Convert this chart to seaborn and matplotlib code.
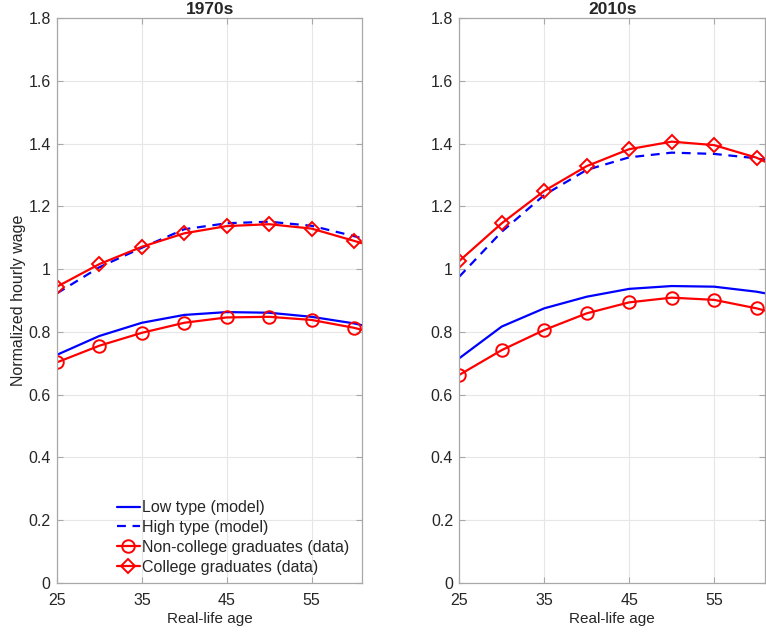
import numpy as np
import pandas as pd
import matplotlib
matplotlib.use("Agg")
import matplotlib.pyplot as plt
from matplotlib.ticker import FuncFormatter
import seaborn as sns

ages = [25, 30, 35, 40, 45, 50, 55, 60, 61]

# 1970s
low_1970 = [0.727, 0.787, 0.829, 0.854, 0.863, 0.861, 0.848, 0.827, 0.821]
high_1970 = [0.923, 1.006, 1.068, 1.127, 1.146, 1.151, 1.138, 1.105, 1.098]
noncol_1970 = [0.703, 0.756, 0.797, 0.829, 0.846, 0.848, 0.838, 0.813, 0.806]
col_1970 = [0.944, 1.016, 1.071, 1.114, 1.137, 1.143, 1.129, 1.090, 1.082]

# 2010s
low_2010 = [0.716, 0.817, 0.875, 0.912, 0.937, 0.946, 0.944, 0.928, 0.923]
high_2010 = [0.976, 1.119, 1.236, 1.316, 1.356, 1.371, 1.367, 1.353, 1.348]
noncol_2010 = [0.663, 0.742, 0.806, 0.859, 0.894, 0.909, 0.902, 0.875, 0.868]
col_2010 = [1.026, 1.146, 1.249, 1.328, 1.382, 1.406, 1.395, 1.355, 1.342]

labels = ["Low type (model)", "High type (model)",
          "Non-college graduates (data)", "College graduates (data)"]
titles = ["1970s", "2010s"]
xticks = [25, 35, 45, 55]
yticks = [0, 0.2, 0.4, 0.6, 0.8, 1.0, 1.2, 1.4, 1.6, 1.8]

sns.set_theme(style="white")
plt.rcParams["font.family"] = ["Liberation Sans", "DejaVu Sans"]
plt.rcParams["font.size"] = 11.5

spine_col = "#a8a8a8"
text_col = "#262626"

fig = plt.figure(figsize=(7.66, 6.33), dpi=100)
ax_l = fig.add_axes([0.0744, 0.079, 0.3988, 0.8926])
ax_r = fig.add_axes([0.5996, 0.079, 0.3991, 0.8926])

panels = [
    (ax_l, low_1970, high_1970, noncol_1970, col_1970),
    (ax_r, low_2010, high_2010, noncol_2010, col_2010),
]
mk = list(range(8))

for i, (ax, low, high, noncol, col) in enumerate(panels):
    sns.lineplot(x=ages, y=low, ax=ax, color="blue", lw=1.6, label=labels[0])
    sns.lineplot(x=ages, y=high, ax=ax, color="blue", lw=1.6, ls=(0, (4, 3)),
                 label=labels[1])
    sns.lineplot(x=ages, y=noncol, ax=ax, color="red", lw=1.6, marker="o",
                 markersize=9, mfc="none", mec="red", mew=1.4, markevery=mk,
                 label=labels[2])
    sns.lineplot(x=ages, y=col, ax=ax, color="red", lw=1.6, marker="D",
                 markersize=7, mfc="none", mec="red", mew=1.4, markevery=mk,
                 label=labels[3])

    ax.set_xlim(25, 61)
    ax.set_ylim(0, 1.8)
    ax.set_xticks(xticks)
    ax.set_yticks(yticks)
    ax.yaxis.set_major_formatter(FuncFormatter(lambda v, p: f"{v:g}"))
    ax.grid(True, color="#e6e6e6", lw=0.8)
    ax.set_axisbelow(True)
    for s in ax.spines.values():
        s.set_color(spine_col)
        s.set_linewidth(0.9)
    ax.tick_params(direction="in", length=4, width=0.8, color=spine_col,
                   labelcolor=text_col, labelsize=11.5, top=True, right=True,
                   left=True, bottom=True)
    ax.tick_params(axis="x", pad=7)
    ax.tick_params(axis="y", pad=4.5)
    ax.set_xlabel("Real-life age", fontsize=11, color=text_col, labelpad=3)
    ax.set_title(titles[i], fontsize=12.5, fontweight="bold", pad=3)

    leg = ax.get_legend()
    if leg is not None:
        leg.remove()

ax_l.set_ylabel("Normalized hourly wage", fontsize=11.5, color=text_col, labelpad=2)
ax_r.set_ylabel("")

ax_l.legend(loc="lower left", bbox_to_anchor=(0.195, 0.015), frameon=False,
            fontsize=11.5, handlelength=1.45, handletextpad=0.15,
            labelspacing=0.3, borderpad=0, borderaxespad=0)

fig.savefig("out.png", dpi=100)
